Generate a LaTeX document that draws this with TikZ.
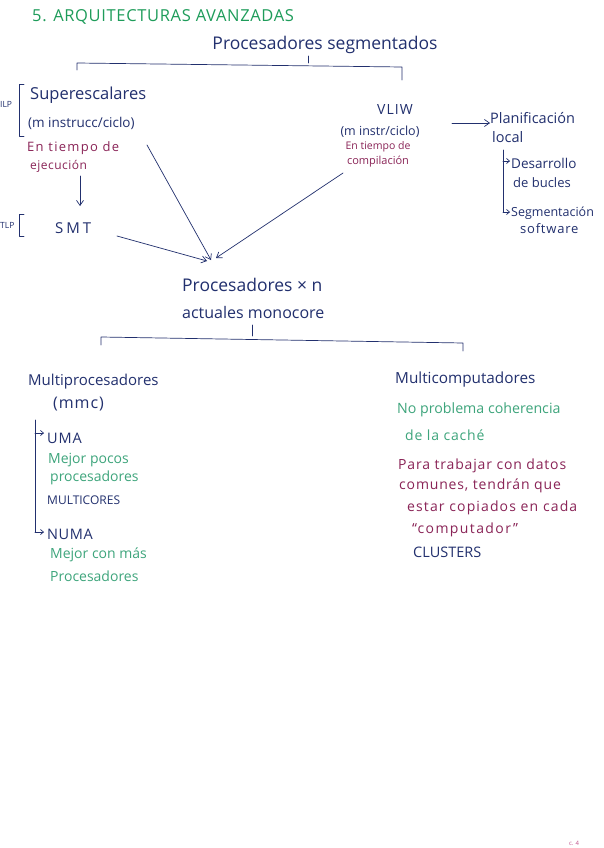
\documentclass[tikz,border=0pt]{standalone}
\usepackage{fontspec}
\setmainfont{Open Sans}
\usetikzlibrary{arrows.meta}
\definecolor{ink}{HTML}{22306E}
\definecolor{ttl}{HTML}{1E9C5A}
\definecolor{note}{HTML}{3EA57C}
\definecolor{pur}{HTML}{8A2457}
\definecolor{pagemk}{HTML}{C0508A}
\newcommand{\fsz}[2]{\fontsize{#1}{#1}\selectfont\addfontfeatures{LetterSpace=#2}}
\tikzset{
  lab/.style={anchor=west, inner sep=0pt, text=ink},
  pnote/.style={anchor=west, inner sep=0pt, text=pur},
  gnote/.style={anchor=west, inner sep=0pt, text=note},
  tiny/.style={anchor=west, inner sep=0pt, text=ink, font=\fsz{8.5}{0}},
  ln/.style={draw=ink, line width=0.7pt, line cap=round, line join=round},
  arr/.style={ln, -{Straight Barb[length=5pt,width=7pt]}},
  hook/.style={ln, -{Straight Barb[length=3pt,width=5pt]}},
}
\begin{document}
\begin{tikzpicture}[x=1pt,y=-1pt]
\fill[white] (0,0) rectangle (603,848);
\useasboundingbox (0,0) rectangle (603,848);

% title
\node[anchor=west, inner sep=0pt, text=ttl, font=\fsz{16.5}{4}] (title) at (32,17) {5. ARQUITECTURAS AVANZADAS};

% top
\node[lab, anchor=center, font=\fsz{17.5}{0}] (pseg) at (325,45) {Procesadores segmentados};
\coordinate (tl) at (77,63);
\coordinate (tr) at (402,67);
\draw[ln] (77,70) -- (tl) -- (tr) -- (402,80);
\draw[ln] (308,63) -- (308,56);

% ILP / TLP
\node[tiny] (ilp) at (0,104) {ILP};
\draw[ln] (24,84) -- (19,84) -- (19,136) -- (24,136);
\node[tiny] (tlp) at (0,225) {TLP};
\draw[ln] (24,214) -- (19,214) -- (19,236) -- (24,236);

% superescalares
\node[lab, font=\fsz{16.5}{0}] (super) at (30,95) {Superescalares};
\node[lab, font=\fsz{13.5}{0}] (minst) at (28,123) {(m instrucc/ciclo)};
\node[pnote, font=\fsz{13}{10}] (ej1) at (27,148) {En tiempo de};
\node[pnote, font=\fsz{12}{4}] (ej2) at (30,166) {ejecución};
\node[lab, font=\fsz{15}{20}] (smt) at (55,228) {SMT};
\draw[arr] (80,176) -- (80,206);

% VLIW
\node[lab, anchor=center, font=\fsz{14}{8}] (vliw) at (395,110) {VLIW};
\node[lab, anchor=center, font=\fsz{12.5}{0}] (minst2) at (380,132) {(m instr/ciclo)};
\node[pnote, anchor=center, font=\fsz{10.5}{0}] (cp1) at (378,147) {En tiempo de};
\node[pnote, anchor=center, font=\fsz{11}{0}] (cp2) at (378,162) {compilación};

\node[lab, font=\fsz{14.5}{0}] (plan) at (490,118) {Planificación};
\node[lab, font=\fsz{14.5}{0}] (local) at (492,137) {local};
\draw[arr] (452,123) -- (plan.west |- 0,123);
\draw[ln] (503,150) -- (503,212);
\draw[hook] (503,161) -- (510,161);
\draw[hook] (503,212) -- (510,212);
\node[lab, font=\fsz{13.5}{0}] (des) at (511,163) {Desarrollo};
\node[lab, font=\fsz{13}{0}] (bucl) at (513,183) {de bucles};
\node[lab, font=\fsz{12.5}{0}] (segm) at (511,213) {Segmentación};
\node[lab, font=\fsz{13}{6}] (soft) at (520,229) {software};

% monocore
\node[lab, font=\fsz{17.5}{0}] (mono1) at (182,285) {Procesadores × n};
\node[lab, font=\fsz{16}{0}] (mono2) at (182,312) {actuales monocore};
\draw[arr] (147,145) -- (211,260);
\draw[arr] (343,173) -- (216,258);
\draw[arr] (117,236) -- (207,261);

% bottom bracket
\draw[ln] (101,345) -- (101,337) -- (463,343) -- (463,351);
\draw[ln] (252,336) -- (252,325);

% multiprocesadores
\node[lab, font=\fsz{15}{0}] (mproc) at (28,382) {Multiprocesadores};
\node[lab, font=\fsz{16}{6}] (mmc) at (53,404) {(mmc)};
\draw[ln] (35,420) -- (35,532);
\draw[hook] (35,433) -- (44,433);
\draw[hook] (35,532) -- (44,532);
\node[lab, font=\fsz{14.5}{6}] (uma) at (47,438) {UMA};
\node[gnote, font=\fsz{14}{0}] (mp1) at (48,460) {Mejor pocos};
\node[gnote, font=\fsz{14}{0}] (mp2) at (50,478) {procesadores};
\node[lab, font=\fsz{12}{0}] (mcores) at (47,500) {MULTICORES};
\node[lab, font=\fsz{14.5}{4}] (numa) at (47,534) {NUMA};
\node[gnote, font=\fsz{14}{0}] (mm1) at (50,555) {Mejor con más};
\node[gnote, font=\fsz{14}{0}] (mm2) at (50,576) {Procesadores};

% multicomputadores
\node[lab, font=\fsz{15.3}{0}] (mcomp) at (395,380) {Multicomputadores};
\node[gnote, font=\fsz{14.2}{0}] (np1) at (397,410) {No problema coherencia};
\node[gnote, font=\fsz{14}{6}] (np2) at (405,435) {de la caché};
\node[pnote, font=\fsz{14}{6}] (pa1) at (398,466) {Para trabajar con datos};
\node[pnote, font=\fsz{14}{6}] (pa2) at (399,486) {comunes, tendrán que};
\node[pnote, font=\fsz{14}{8}] (pa3) at (407,508) {estar copiados en cada};
\node[pnote, font=\fsz{14}{10}] (pa4) at (412,530) {“computador”};
\node[lab, font=\fsz{14.5}{0}] (clus) at (413,552) {CLUSTERS};

% page mark
\node[anchor=center, inner sep=0pt, text=pagemk, font=\fsz{6}{0}] (pg) at (574,843) {c. 4};
\end{tikzpicture}
\end{document}
